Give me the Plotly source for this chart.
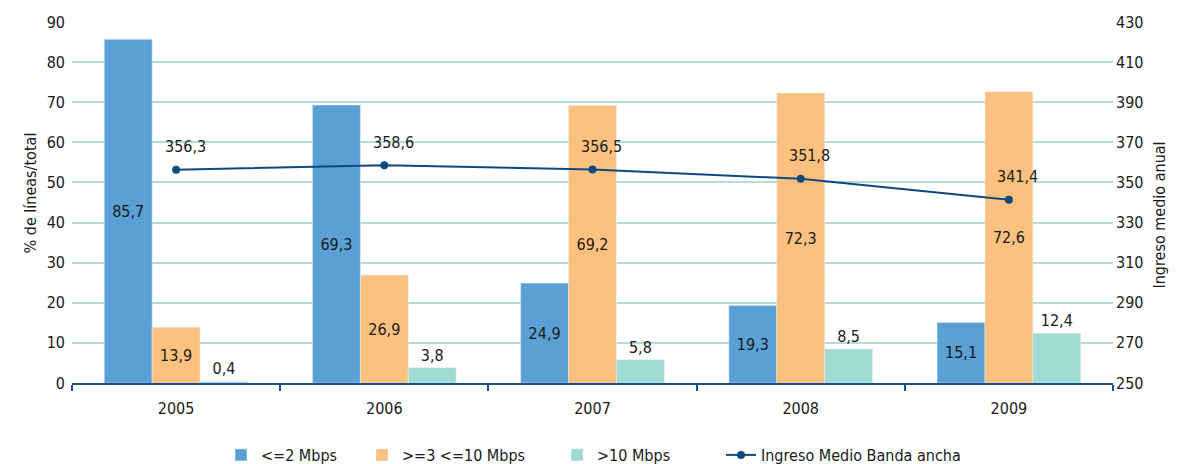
import plotly.graph_objects as go

years = ["2005", "2006", "2007", "2008", "2009"]
low = [85.7, 69.3, 24.9, 19.3, 15.1]
mid = [13.9, 26.9, 69.2, 72.3, 72.6]
high = [0.4, 3.8, 5.8, 8.5, 12.4]
ingreso = [356.3, 358.6, 356.5, 351.8, 341.4]

FONT = "DejaVu Sans Condensed, Liberation Sans Narrow, Roboto, sans-serif"
TXT = "#1a1a1a"
def fmt(v):
    return f"{v:.1f}".replace(".", ",")

# page body has an 8px margin; figure is laid out in page pixels minus that offset
OFF = 8
W, H = 1178 - OFF, 464 - OFF
L, R, T, B = 72 - OFF, 65, 22 - OFF, 81
PW = W - L - R
PH = H - T - B
def px(xpage):
    return (xpage - OFF - L) / PW
def py(ypage):
    return (H - B - (ypage - OFF)) / PH

fig = go.Figure()
fig.add_trace(go.Bar(x=years, y=low, name="<=2 Mbps", marker_color="#5aa0d4",
                     text=[fmt(v) for v in low], textposition="inside",
                     insidetextanchor="middle", textfont=dict(color=TXT, size=16, family=FONT),
                     legend="legend"))
fig.add_trace(go.Bar(x=years, y=mid, name=">=3 <=10 Mbps", marker_color="#fcc17f",
                     text=[fmt(v) for v in mid], textposition="inside",
                     insidetextanchor="middle", textfont=dict(color=TXT, size=16, family=FONT),
                     legend="legend2"))
fig.add_trace(go.Bar(x=years, y=high, name=">10 Mbps", marker_color="#a0dad3",
                     text=[fmt(v) for v in high], textposition="outside",
                     textfont=dict(color=TXT, size=16, family=FONT), cliponaxis=False,
                     legend="legend3"))
fig.add_trace(go.Scatter(x=years, y=ingreso, name="Ingreso Medio Banda ancha", yaxis="y2",
                         mode="lines+markers", line=dict(color="#0d4a7f", width=2),
                         marker=dict(size=8, color="#0d4a7f"),
                         legend="legend4"))

line_labels = [dict(x=i, y=v, xref="x", yref="y2", text=fmt(v), showarrow=False,
                    xshift=9, yshift=23, font=dict(size=16, family=FONT, color=TXT))
               for i, v in enumerate(ingreso)]

leg_common = dict(orientation="h", yref="container", y=0.057, yanchor="top",
                  xanchor="left", font=dict(size=16, family=FONT, color=TXT),
                  bgcolor="rgba(0,0,0,0)")

fig.update_layout(
    width=W, height=H,
    margin=dict(l=L, r=R, t=T, b=B, autoexpand=False),
    plot_bgcolor="white", paper_bgcolor="white",
    font=dict(family=FONT, size=16, color=TXT),
    barmode="group", bargap=0.31, bargroupgap=0,
    uniformtext=dict(minsize=10, mode="show"),
    xaxis=dict(type="category", categoryorder="array", categoryarray=years,
               range=[-0.5, len(years) - 0.5],
               showline=True, linecolor="#1a4f8a", linewidth=2,
               ticks="outside", tickson="boundaries", tickcolor="#1a4f8a", ticklen=6,
               tickwidth=2, showgrid=False, ticklabelstandoff=10, automargin=False,
               tickangle=0),
    yaxis=dict(range=[0, 90], dtick=10, showgrid=True, gridcolor="#b2ddd8", gridwidth=2,
               zeroline=False, automargin=False, ticklabelstandoff=6),
    yaxis2=dict(range=[250, 430], dtick=20, tick0=250, overlaying="y", side="right",
                showgrid=False, zeroline=False, automargin=False, ticklabelstandoff=2),
    legend=dict(x=px(221), **leg_common),
    legend2=dict(x=px(362), **leg_common),
    legend3=dict(x=px(557), **leg_common),
    legend4=dict(x=px(721), **leg_common),
    showlegend=True,
    annotations=line_labels + [
        dict(text="% de líneas/total", x=px(18), y=py(193), xref="paper", yref="paper",
             textangle=-90, showarrow=False, font=dict(size=16, family=FONT, color=TXT)),
        dict(text="Ingreso medio anual", x=px(1170), y=py(215), xref="paper", yref="paper",
             textangle=-90, showarrow=False, font=dict(size=16, family=FONT, color=TXT)),
    ],
)
fig.write_html("out.html")
